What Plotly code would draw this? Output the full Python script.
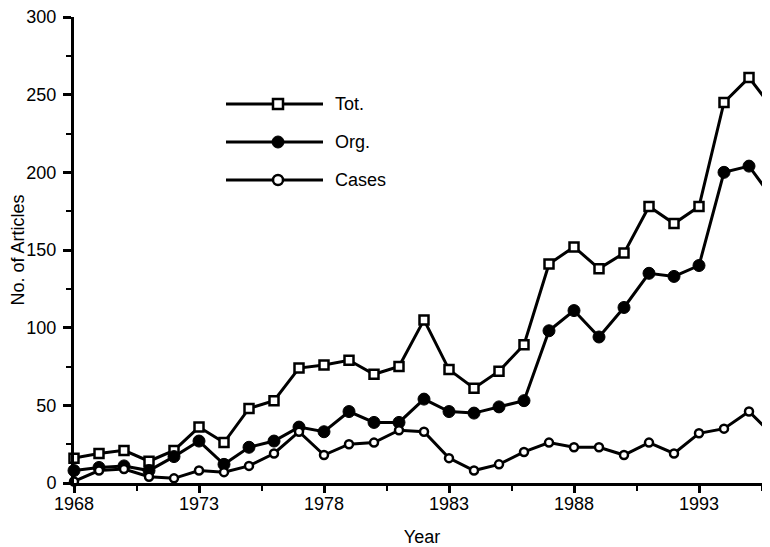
import plotly.graph_objects as go

years = list(range(1968, 1997))
tot = [16, 19, 21, 14, 21, 36, 26, 48, 53, 74, 76, 79, 70, 75, 105, 73, 61, 72, 89,
       141, 152, 138, 148, 178, 167, 178, 245, 261, 240]
org = [8, 10, 11, 8, 17, 27, 12, 23, 27, 36, 33, 46, 39, 39, 54, 46, 45, 49, 53,
       98, 111, 94, 113, 135, 133, 140, 200, 204, 182]
cases = [1, 8, 9, 4, 3, 8, 7, 11, 19, 33, 18, 25, 26, 34, 33, 16, 8, 12, 20,
         26, 23, 23, 18, 26, 19, 32, 35, 46, 30]
series_names = ["Tot.", "Org.", "Cases"]

BLACK = "#000000"
FONT = "Liberation Sans, Arial, sans-serif"
FS = 18

fig = go.Figure()
fig.add_trace(go.Scatter(x=years, y=tot, mode="lines+markers", name=series_names[0],
                         line=dict(color=BLACK, width=3), cliponaxis=False,
                         marker=dict(symbol="square", size=9, color="white",
                                     line=dict(color=BLACK, width=2.5))))
fig.add_trace(go.Scatter(x=years, y=org, mode="lines+markers", name=series_names[1],
                         line=dict(color=BLACK, width=3), cliponaxis=False,
                         marker=dict(symbol="circle", size=12, color=BLACK,
                                     line=dict(color=BLACK, width=1))))
fig.add_trace(go.Scatter(x=years, y=cases, mode="lines+markers", name=series_names[2],
                         line=dict(color=BLACK, width=3), cliponaxis=False,
                         marker=dict(symbol="circle", size=8, color="white",
                                     line=dict(color=BLACK, width=2.5))))

# The page body has an 8px default margin: size the figure to fill the rest
OFF = 8
W, H = 770 - OFF, 547 - OFF
# plot area in window pixels: x 74..770, y 17..483
L, R, T, B = 74 - OFF, 0, 17 - OFF, 547 - 483
pw, ph = W - L - R, H - T - B


def px(x):  # window pixel -> paper
    return (x - OFF - L) / pw


def py(y):
    return (OFF + H - B - y) / ph


shapes = []
annotations = []
leg_y = [104, 142, 180]
for i, name in enumerate(series_names):
    yy = py(leg_y[i])
    shapes.append(dict(type="line", xref="paper", yref="paper", x0=px(226), x1=px(323),
                       y0=yy, y1=yy, line=dict(color=BLACK, width=3)))
    if i == 0:
        shapes.append(dict(type="rect", xref="paper", yref="paper", xsizemode="pixel",
                           ysizemode="pixel", xanchor=px(278), yanchor=yy,
                           x0=-5, x1=5, y0=-5, y1=5, fillcolor="white",
                           line=dict(color=BLACK, width=2.5)))
    elif i == 1:
        shapes.append(dict(type="circle", xref="paper", yref="paper", xsizemode="pixel",
                           ysizemode="pixel", xanchor=px(278), yanchor=yy,
                           x0=-6, x1=6, y0=-6, y1=6, fillcolor=BLACK,
                           line=dict(color=BLACK, width=1)))
    else:
        shapes.append(dict(type="circle", xref="paper", yref="paper", xsizemode="pixel",
                           ysizemode="pixel", xanchor=px(278), yanchor=yy,
                           x0=-5, x1=5, y0=-5, y1=5, fillcolor="white",
                           line=dict(color=BLACK, width=2.5)))
    annotations.append(dict(xref="paper", yref="paper", x=px(333), y=yy, text=name,
                            showarrow=False, xanchor="left", yanchor="middle",
                            font=dict(family=FONT, size=FS, color=BLACK)))

fig.update_layout(
    width=W, height=H,
    margin=dict(l=L, r=R, t=T, b=B, autoexpand=False),
    paper_bgcolor="white", plot_bgcolor="white",
    showlegend=False,
    font=dict(family=FONT, size=FS, color=BLACK),
    shapes=shapes,
    annotations=annotations,
    xaxis=dict(range=[1968, 1995.84], tick0=1968, dtick=5, showgrid=False, zeroline=False,
               automargin=False, ticklabeloverflow="allow",
               showline=True, linecolor=BLACK, linewidth=3,
               ticks="outside", ticklen=7, tickwidth=3, tickcolor=BLACK,
               ticklabelstandoff=-5,
               minor=dict(ticks="outside", ticklen=5, tickwidth=2, tickcolor=BLACK,
                          tick0=1968, dtick=2.5, showgrid=False),
               tickfont=dict(family=FONT, size=FS, color=BLACK),
               title=dict(text="Year", standoff=18,
                          font=dict(family=FONT, size=FS, color=BLACK))),
    yaxis=dict(range=[0, 300], tick0=0, dtick=50, showgrid=False, zeroline=False,
               automargin=False, ticklabeloverflow="allow",
               showline=True, linecolor=BLACK, linewidth=3,
               ticks="outside", ticklen=8, tickwidth=3, tickcolor=BLACK,
               ticklabelstandoff=3,
               minor=dict(ticks="outside", ticklen=5, tickwidth=2, tickcolor=BLACK,
                          tick0=0, dtick=25, showgrid=False),
               tickfont=dict(family=FONT, size=FS, color=BLACK),
               title=dict(text="No. of Articles", standoff=4,
                          font=dict(family=FONT, size=FS, color=BLACK))),
)

fig.write_html("out.html")
